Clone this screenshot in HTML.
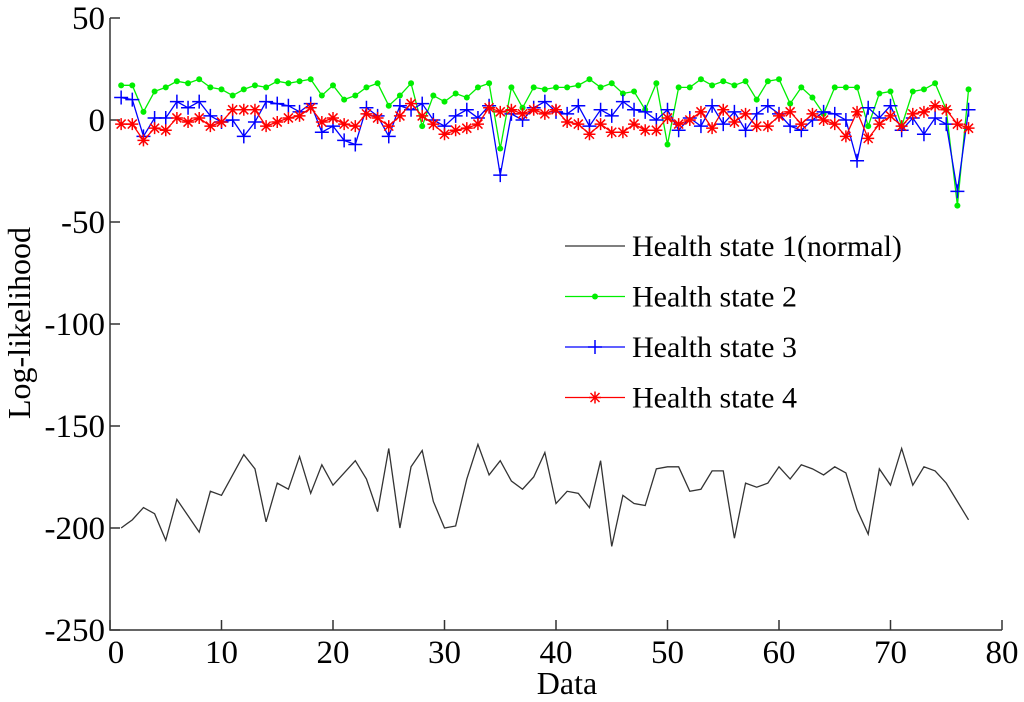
<!DOCTYPE html>
<html><head><meta charset="utf-8"><style>
html,body{margin:0;padding:0;background:#fff}
svg{display:block;font-family:"Liberation Serif",serif}
</style></head><body>
<svg id="c" width="1024" height="702" viewBox="0 0 1024 702"></svg>
<script>
const xTicks=[0,10,20,30,40,50,60,70,80];
const yTicks=[50,0,-50,-100,-150,-200,-250];
const s1=[-200,-196,-190,-193,-206,-186,-194,-202,-182,-184,-174,-164,-171,-197,-178,-181,-165,-183,-169,-179,-173,-167,-176,-192,-161,-200,-170,-162,-187,-200,-199,-176,-159,-174,-167,-177,-181,-175,-163,-188,-182,-183,-190,-167,-209,-184,-188,-189,-171,-170,-170,-182,-181,-172,-172,-205,-178,-180,-178,-170,-176,-169,-171,-174,-170,-173,-191,-203,-171,-179,-161,-179,-170,-172,-178,-187,-196];
const s2=[17,17,4,14,16,19,18,20,16,15,12,15,17,16,19,18,19,20,12,17,10,12,16,18,7,12,18,-3,12,9,13,11,16,18,-14,16,6,16,15,16,16,17,20,16,18,13,14,5,18,-12,16,16,20,17,19,17,19,10,19,20,8,16,11,3,16,16,16,-3,13,14,-3,14,15,18,5,-42,15];
const s3=[11,10,-8,1,1,9,6,9,2,-1,0,-8,-1,9,8,7,4,8,-6,-3,-10,-12,6,2,-8,7,5,8,0,-3,2,5,1,7,-27,3,0,6,9,4,3,7,-3,5,2,9,5,4,0,5,-5,1,-3,7,-2,4,-5,3,7,3,-3,-5,0,4,3,0,-20,6,1,7,-5,1,-7,1,-2,-35,5];
const s4=[-2,-2,-10,-4,-5,1,-1,1,-3,-1,5,5,5,-3,-1,1,2,6,-1,1,-2,-3,3,1,-3,2,8,2,-2,-7,-5,-4,-2,6,4,5,3,5,3,5,-1,-2,-7,-2,-6,-6,-2,-5,-5,1,-2,0,4,-4,5,-1,3,-3,-3,2,4,-2,3,0,-2,-8,4,-9,-2,2,-3,3,4,7,5,-2,-4];
const legendLabels=["Health state 1(normal)","Health state 2","Health state 3","Health state 4"];
const NS="http://www.w3.org/2000/svg",svg=document.getElementById('c');
const X=v=>110+v*11.15, Y=v=>120-v*2.04;
function mk(t,a,p){const e=document.createElementNS(NS,t);for(const k in a)e.setAttribute(k,a[k]);(p||svg).appendChild(e);return e;}
let ax=mk('g',{});


mk('path',{d:`M${X(0)},${Y(50)}V${Y(-250)}H${X(80)}`,fill:'none',stroke:'#333','stroke-width':1.5},ax);
xTicks.forEach(t=>{mk('line',{x1:X(t),x2:X(t),y1:Y(-250),y2:Y(-250)-10,stroke:'#333','stroke-width':1.5},ax);
 const e=mk('text',{x:X(t)+(t===0?6:0),y:663,'text-anchor':'middle','font-size':33},ax);e.textContent=t;
 
 });
yTicks.forEach(t=>{mk('line',{x1:X(0),x2:X(0)+10,y1:Y(t),y2:Y(t),stroke:'#333','stroke-width':1.5},ax);
 const e=mk('text',{x:105,y:Y(t)+11,'text-anchor':'end','font-size':33},ax);e.textContent=t;
 
 });
let xt=mk('text',{x:567,y:694,'text-anchor':'middle','font-size':32});xt.textContent='Data';


let yt=mk('text',{x:0,y:0,'text-anchor':'middle','font-size':32,transform:'translate(30,323) rotate(-90)'});yt.textContent='Log-likelihood';


function marker(g,type,x,y,col){
 if(type==='dot')mk('circle',{cx:x,cy:y,r:3,fill:col},g);
 else if(type==='plus'){mk('path',{d:`M${x-7},${y}H${x+7}M${x},${y-7}V${y+7}`,stroke:col,'stroke-width':1.5},g);}
 else if(type==='star'){mk('path',{d:`M${x-6},${y}H${x+6}M${x},${y-6}V${y+6}M${x-4.5},${y-4.5}L${x+4.5},${y+4.5}M${x-4.5},${y+4.5}L${x+4.5},${y-4.5}`,stroke:col,'stroke-width':1.5},g);}
}
const series=[[s1,'#333',null,'series-state-1'],[s2,'#00ee00','dot','series-state-2'],[s3,'#0000ff','plus','series-state-3'],[s4,'#ff0000','star','series-state-4']];
series.forEach(([d,col,m,name])=>{const g=mk('g',{});
 
 
 mk('polyline',{points:d.map((v,i)=>X(i+1)+','+Y(v)).join(' '),fill:'none',stroke:col,'stroke-width':1.3},g);
 if(m)d.forEach((v,i)=>marker(g,m,X(i+1),Y(v),col));});
legendLabels.forEach((l,k)=>{const y=246+k*50.5;const g=mk('g',{});
 
 
 const s=series[k];mk('line',{x1:565,x2:625,y1:y,y2:y,stroke:s[1],'stroke-width':1.3},g);
 if(s[2])marker(g,s[2],595,y,s[1]);
 const t=mk('text',{x:632,y:y+10,'font-size':30},g);t.textContent=l;});
</script>
</body></html>
